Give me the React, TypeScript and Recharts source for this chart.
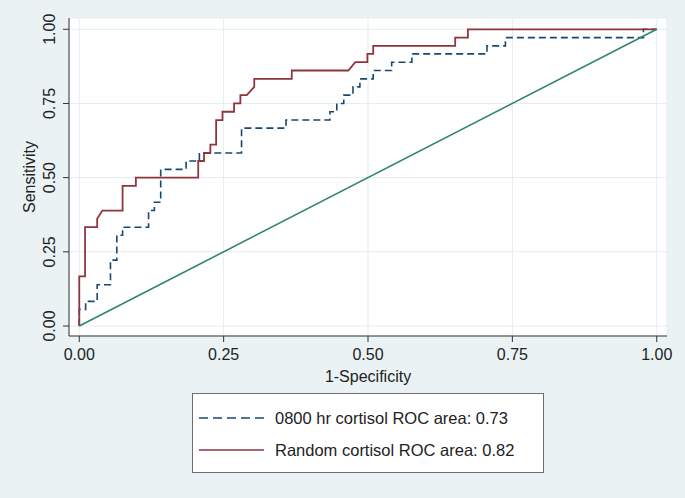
import { LineChart, Line, XAxis, YAxis, CartesianGrid, Legend } from 'recharts';

const xTicks = [0, 0.25, 0.5, 0.75, 1];
const yTicks = [0, 0.25, 0.5, 0.75, 1];

// 0800 hr cortisol ROC curve (1-specificity, sensitivity)
const fpr0800 = [0, 0, 0.011, 0.011, 0.031, 0.031, 0.054, 0.054, 0.065, 0.065, 0.075, 0.075, 0.12, 0.12, 0.13, 0.13, 0.141, 0.141, 0.185, 0.185, 0.208, 0.208, 0.281, 0.281, 0.358, 0.358, 0.434, 0.434, 0.446, 0.446, 0.458, 0.458, 0.474, 0.474, 0.486, 0.486, 0.509, 0.509, 0.541, 0.541, 0.576, 0.576, 0.706, 0.706, 0.738, 0.738, 0.977, 0.977, 1];
const sens0800 = [0, 0.056, 0.056, 0.083, 0.083, 0.139, 0.139, 0.222, 0.222, 0.306, 0.306, 0.333, 0.333, 0.389, 0.389, 0.417, 0.417, 0.528, 0.528, 0.556, 0.556, 0.583, 0.583, 0.667, 0.667, 0.694, 0.694, 0.722, 0.722, 0.75, 0.75, 0.778, 0.778, 0.806, 0.806, 0.833, 0.833, 0.861, 0.861, 0.889, 0.889, 0.917, 0.917, 0.944, 0.944, 0.972, 0.972, 1, 1];

// Random cortisol ROC curve
const fprRandom = [0, 0, 0.01, 0.01, 0.031, 0.031, 0.04, 0.075, 0.075, 0.098, 0.098, 0.206, 0.206, 0.216, 0.216, 0.227, 0.227, 0.237, 0.237, 0.248, 0.248, 0.268, 0.268, 0.279, 0.279, 0.29, 0.303, 0.303, 0.368, 0.368, 0.466, 0.478, 0.499, 0.499, 0.509, 0.509, 0.651, 0.651, 0.673, 0.673, 1];
const sensRandom = [0, 0.167, 0.167, 0.333, 0.333, 0.361, 0.389, 0.389, 0.472, 0.472, 0.5, 0.5, 0.556, 0.556, 0.583, 0.583, 0.611, 0.611, 0.694, 0.694, 0.722, 0.722, 0.75, 0.75, 0.778, 0.778, 0.806, 0.833, 0.833, 0.861, 0.861, 0.889, 0.889, 0.917, 0.917, 0.944, 0.944, 0.972, 0.972, 1, 1];

// reference (chance) line
const refFpr = [0, 1];
const refSens = [0, 1];

const legendLabels = ['0800 hr cortisol ROC area: 0.73', 'Random cortisol ROC area: 0.82'];

const FONT = '"Liberation Sans", Arial, Helvetica, sans-serif';
const BLUE = '#1a476f';
const RED = '#90353b';
const GREEN = '#2f8570';
const BG = '#eaf2f3';

const toPoints = (xs: number[], ys: number[]) => xs.map((x, i) => ({ x, y: ys[i] }));

function YTick({ x, y, payload }: any) {
    const bx = x - 6;
    return (
        <text x={bx} y={y} transform={`rotate(-90 ${bx} ${y})`} textAnchor="middle" fontSize={16} fill="#222" fontFamily={FONT}>
            {Number(payload.value).toFixed(2)}
        </text>
    );
}

function YLabel({ viewBox }: any) {
    const cx = 35;
    const cy = viewBox.y + viewBox.height / 2;
    return (
        <text x={cx} y={cy} transform={`rotate(-90 ${cx} ${cy})`} textAnchor="middle" fontSize={16} fill="#222" fontFamily={FONT}>
            Sensitivity
        </text>
    );
}

function XLabel({ viewBox }: any) {
    const cx = viewBox.x + viewBox.width / 2;
    return (
        <text x={cx} y={viewBox.y + 46} textAnchor="middle" fontSize={16} fill="#222" fontFamily={FONT}>
            1-Specificity
        </text>
    );
}

function LegendBox() {
    const rows = [
        { label: legendLabels[0], color: BLUE, dash: '9 5' },
        { label: legendLabels[1], color: RED, dash: undefined },
    ];
    return (
        <div style={{ width: 352, height: 80, background: '#fff', border: '1px solid #6e6e6e', boxSizing: 'border-box', paddingTop: 8 }}>
            {rows.map((r) => (
                <div key={r.label} style={{ display: 'flex', alignItems: 'center', height: 32 }}>
                    <svg width={82} height={10} style={{ flex: 'none' }}>
                        <line x1={6} x2={71} y1={5} y2={5} stroke={r.color} strokeWidth={1.6} strokeDasharray={r.dash} />
                    </svg>
                    <span style={{ fontFamily: FONT, fontSize: 16.5, color: '#222', whiteSpace: 'nowrap' }}>{r.label}</span>
                </div>
            ))}
        </div>
    );
}

export default function App() {
    return (
        <div style={{ position: 'absolute', left: 0, top: 0, width: 685, height: 498, background: BG }}>
            <LineChart width={685} height={498} margin={{ top: 18, right: 18, left: 0, bottom: 0 }}>
                <CartesianGrid stroke="#e4edef" strokeWidth={1} fill="#ffffff" />
                <XAxis
                    type="number"
                    dataKey="x"
                    domain={[-0.0178, 1.0178]}
                    ticks={xTicks}
                    tickFormatter={(v: number) => v.toFixed(2)}
                    tick={{ fontSize: 16, fill: '#222', fontFamily: FONT }}
                    tickSize={6}
                    tickMargin={7}
                    height={162}
                    stroke="#333"
                    allowDataOverflow
                    label={<XLabel />}
                />
                <YAxis
                    type="number"
                    domain={[-0.0337, 1.038]}
                    ticks={yTicks}
                    tick={<YTick />}
                    tickSize={6}
                    width={69}
                    stroke="#333"
                    allowDataOverflow
                    label={<YLabel />}
                />
                <Line data={toPoints(fpr0800, sens0800)} dataKey="y" type="linear" stroke={BLUE} strokeWidth={1.6} strokeDasharray="7 4" dot={false} isAnimationActive={false} />
                <Line data={toPoints(fprRandom, sensRandom)} dataKey="y" type="linear" stroke={RED} strokeWidth={1.8} dot={false} isAnimationActive={false} />
                <Line data={toPoints(refFpr, refSens)} dataKey="y" type="linear" stroke={GREEN} strokeWidth={1.6} dot={false} isAnimationActive={false} />
                <Legend
                    layout="horizontal"
                    verticalAlign="middle"
                    align="center"
                    content={<LegendBox />}
                    wrapperStyle={{ left: 192, top: 393, width: 352, height: 80 }}
                />
            </LineChart>
        </div>
    );
}
